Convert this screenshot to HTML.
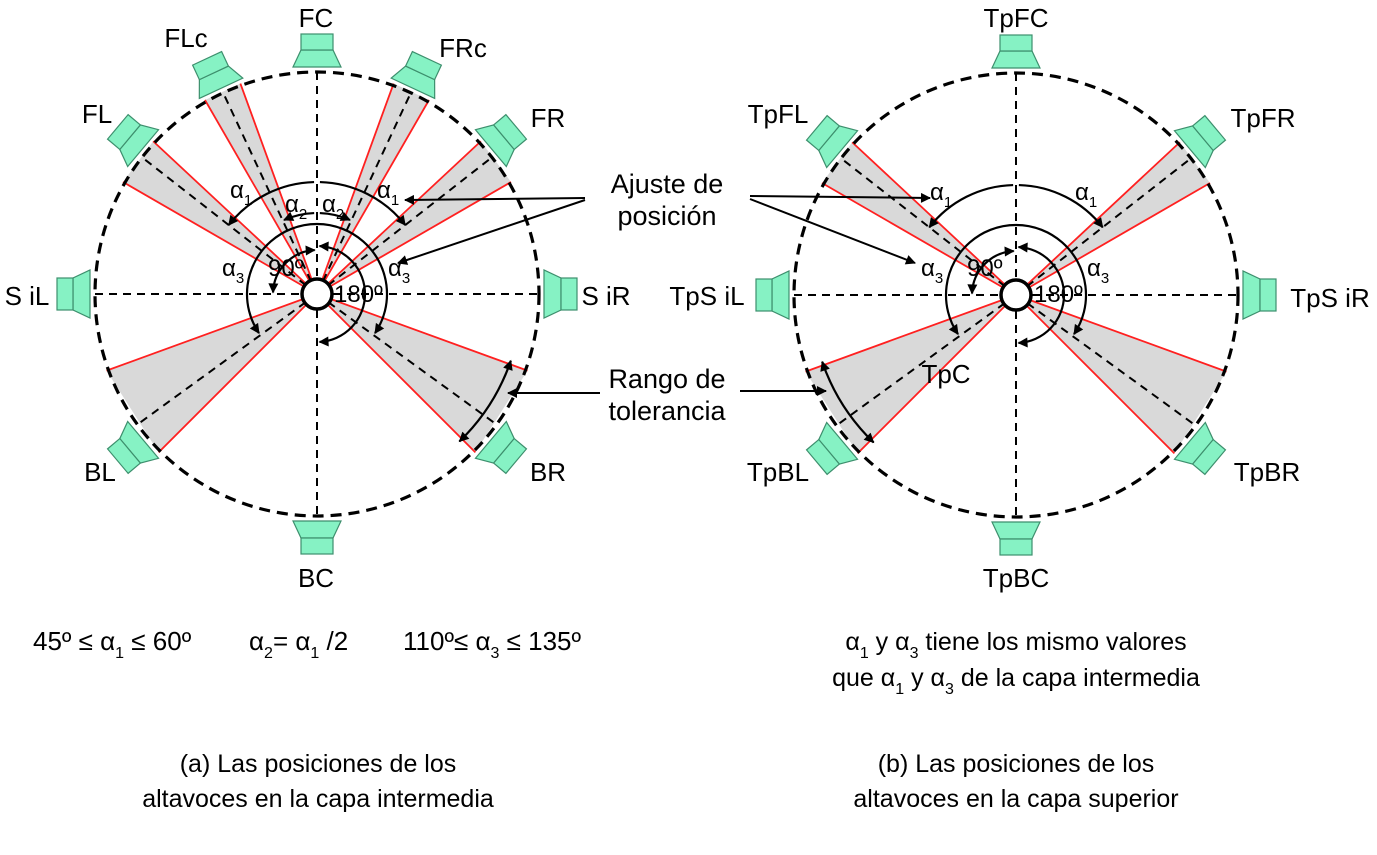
<!DOCTYPE html>
<html><head><meta charset="utf-8"><style>
html,body{margin:0;padding:0;background:#fff;}
svg{display:block;font-family:"Liberation Sans",sans-serif;}
text{fill:#000;}
</style></head><body>
<svg id="s" width="1377" height="855" viewBox="0 0 1377 855" xmlns="http://www.w3.org/2000/svg">
<defs>
<marker id="ah" viewBox="0 0 10 10" refX="9" refY="5" markerWidth="11" markerHeight="10" markerUnits="userSpaceOnUse" orient="auto-start-reverse">
<path d="M0,0 L10,5 L0,10 z" fill="#000"/></marker>
</defs>
<g id="g"></g>
<g font-size="26" text-anchor="middle">
<text x="316" y="27">FC</text>
<text x="186" y="47">FLc</text>
<text x="463" y="57">FRc</text>
<text x="97" y="123">FL</text>
<text x="548" y="127">FR</text>
<text x="27" y="305">S iL</text>
<text x="606" y="305">S iR</text>
<text x="100" y="481">BL</text>
<text x="548" y="481">BR</text>
<text x="316" y="587">BC</text>
<text x="1016" y="27">TpFC</text>
<text x="778" y="123">TpFL</text>
<text x="1263" y="127">TpFR</text>
<text x="707" y="305">TpS iL</text>
<text x="1330" y="307">TpS iR</text>
<text x="778" y="481">TpBL</text>
<text x="1267" y="481">TpBR</text>
<text x="1016" y="587">TpBC</text>
<text x="946" y="383">TpC</text>
</g>
<g font-size="27" text-anchor="middle">
<text x="667" y="193">Ajuste de</text>
<text x="667" y="225">posición</text>
<text x="667" y="388">Rango de</text>
<text x="667" y="420">tolerancia</text>
</g>
<g font-size="25" text-anchor="middle">
<text x="318" y="772">(a) Las posiciones de los</text>
<text x="318" y="807">altavoces en la capa intermedia</text>
<text x="1016" y="772">(b) Las posiciones de los</text>
<text x="1016" y="807">altavoces en la capa superior</text>
</g>
<g font-size="26">
<text x="33" y="650">45º ≤ α<tspan font-size="16" dy="8">1</tspan><tspan dy="-8"> ≤ 60º</tspan></text>
<text x="249" y="650">α<tspan font-size="16" dy="8">2</tspan><tspan dy="-8">= α</tspan><tspan font-size="16" dy="8">1</tspan><tspan dy="-8"> /2</tspan></text>
<text x="403" y="650">110º≤ α<tspan font-size="16" dy="8">3</tspan><tspan dy="-8"> ≤ 135º</tspan></text>
</g>
<g font-size="25">
<text x="1016" y="650" text-anchor="middle">α<tspan font-size="16" dy="8">1</tspan><tspan dy="-8"> y α</tspan><tspan font-size="16" dy="8">3</tspan><tspan dy="-8"> tiene los mismo valores</tspan></text>
<text x="1016" y="686" text-anchor="middle">que α<tspan font-size="16" dy="8">1</tspan><tspan dy="-8"> y α</tspan><tspan font-size="16" dy="8">3</tspan><tspan dy="-8"> de la capa intermedia</tspan></text>
</g>
<g font-size="24">
<text x="230" y="198">α<tspan font-size="15" dy="7">1</tspan></text>
<text x="377" y="198">α<tspan font-size="15" dy="7">1</tspan></text>
<text x="285" y="212">α<tspan font-size="15" dy="7">2</tspan></text>
<text x="322" y="212">α<tspan font-size="15" dy="7">2</tspan></text>
<text x="222" y="276">α<tspan font-size="15" dy="7">3</tspan></text>
<text x="388" y="276">α<tspan font-size="15" dy="7">3</tspan></text>
<text x="268" y="276">90º</text>
<text x="334" y="302">180º</text>
<text x="930" y="200">α<tspan font-size="15" dy="7">1</tspan></text>
<text x="1075" y="200">α<tspan font-size="15" dy="7">1</tspan></text>
<text x="921" y="276">α<tspan font-size="15" dy="7">3</tspan></text>
<text x="1087" y="276">α<tspan font-size="15" dy="7">3</tspan></text>
<text x="967" y="276">90º</text>
<text x="1034" y="302">180º</text>
</g>
</svg>
<script>
var NS="http://www.w3.org/2000/svg",G=document.getElementById("g");
function el(t,a){var e=document.createElementNS(NS,t);for(var k in a)e.setAttribute(k,a[k]);G.appendChild(e);return e;}
function P(cx,cy,r,a){a=a*Math.PI/180;return [cx+r*Math.sin(a),cy-r*Math.cos(a)];}
function arc(cx,cy,r,a1,a2,arr){var p=P(cx,cy,r,a1),q=P(cx,cy,r,a2);var large=Math.abs(a2-a1)>180?1:0;var sw=a2>a1?1:0;
 var o={d:"M"+p[0]+","+p[1]+" A"+r+","+r+" 0 "+large+" "+sw+" "+q[0]+","+q[1],fill:"none",stroke:"#000","stroke-width":2.2};
 if(arr&1)o["marker-start"]="url(#ah)";if(arr&2)o["marker-end"]="url(#ah)";el("path",o);}
function line(x1,y1,x2,y2,o){var a={x1:x1,y1:y1,x2:x2,y2:y2,stroke:"#000","stroke-width":2};for(var k in o)a[k]=o[k];el("line",a);}
function wedge(cx,cy,a1,a2,am){var r=224,p=P(cx,cy,r,a1),q=P(cx,cy,r,a2);
 el("polygon",{points:cx+","+cy+" "+p+" "+q,fill:"#d9d9d9",stroke:"none"});
 line(cx,cy,p[0],p[1],{stroke:"#ff2020","stroke-width":1.8});line(cx,cy,q[0],q[1],{stroke:"#ff2020","stroke-width":1.8});
 var m=P(cx,cy,224,am);line(cx,cy,m[0],m[1],{"stroke-dasharray":"8 6"});}
function spk(cx,cy,a){var g=document.createElementNS(NS,"g");g.setAttribute("transform","rotate("+a+" "+cx+" "+cy+")");
 var s="fill:#86f2c4;stroke:#3d8f6d;stroke-width:1.2";
 g.innerHTML='<polygon points="'+(cx-24)+','+(cy-227)+' '+(cx+24)+','+(cy-227)+' '+(cx+16)+','+(cy-244)+' '+(cx-16)+','+(cy-244)+'" style="'+s+'"/><rect x="'+(cx-16)+'" y="'+(cy-260)+'" width="32" height="16" style="'+s+'"/>';
 G.appendChild(g);}
function diagram(cx,cy,wedges,spks){
 wedges.forEach(function(w){wedge(cx,cy,w[0],w[1],w[2]);});
 line(cx-222,cy,cx+222,cy,{"stroke-dasharray":"8 6"});
 line(cx,cy-222,cx,cy+222,{"stroke-dasharray":"8 6"});
 el("circle",{cx:cx,cy:cy,r:222,fill:"none",stroke:"#000","stroke-width":3.2,"stroke-dasharray":"11 7"});
 spks.forEach(function(a){spk(cx,cy,a);});
}
var L=[317,294],R=[1016,295];
diagram(L[0],L[1],[[-30,-20,-25],[20,30,25],[-60,-47,-52],[47,60,52],[110,135,126],[-135,-110,-126]],[0,-25,25,-50,50,-90,90,130,-130,180]);
diagram(R[0],R[1],[[-60,-47,-52],[47,60,52],[110,135,126],[-135,-110,-126]],[0,-50,50,-90,90,130,-130,180]);
var cx=L[0],cy=L[1];
arc(cx,cy,112,-1.5,-52,2);arc(cx,cy,112,1.5,52,2);
arc(cx,cy,81,-2,-24,2);arc(cx,cy,81,2,24,2);
arc(cx,cy,70,-124,124,3);
arc(cx,cy,44,-3,-88,3);arc(cx,cy,48,3,177,3);
arc(cx,cy,205,109,136,3);
cx=R[0];cy=R[1];
arc(cx,cy,110,-1.5,-52,2);arc(cx,cy,110,1.5,52,2);
arc(cx,cy,70,-124,124,3);
arc(cx,cy,44,-3,-88,3);arc(cx,cy,48,3,177,3);
arc(cx,cy,205,-109,-136,3);
[L,R].forEach(function(c){el("circle",{cx:c[0],cy:c[1],r:15,fill:"#fff",stroke:"#000","stroke-width":3.5});});
line(585,198,405,200,{"marker-end":"url(#ah)"});
line(585,200,398,263,{"marker-end":"url(#ah)"});
line(750,196,930,198,{"marker-end":"url(#ah)"});
line(750,199,915,263,{"marker-end":"url(#ah)"});
line(600,393,508,393,{"marker-end":"url(#ah)"});
line(740,391,826,391,{"marker-end":"url(#ah)"});
</script>
</body></html>
